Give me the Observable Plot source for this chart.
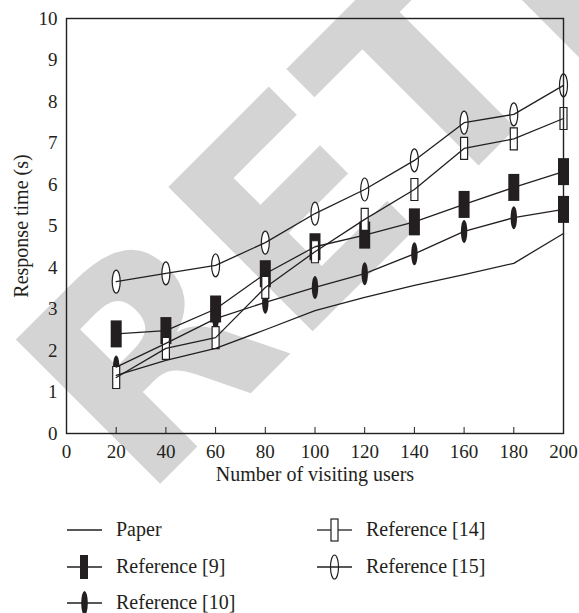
<!DOCTYPE html>
<html>
<head>
<meta charset="utf-8">
<script src="https://cdn.jsdelivr.net/npm/d3@7"></script>
<script src="https://cdn.jsdelivr.net/npm/@observablehq/plot@0.6"></script>
<style>
  html, body { margin: 0; padding: 0; background: #fff; }
  #wrap { position: relative; width: 579px; height: 613px; overflow: hidden; font-family: "Liberation Serif", "Times New Roman", serif; color: #231f20; }
  #wm { position: absolute; left: 0; top: 0; z-index: 0; }
  #chart { position: absolute; left: 0; top: 0; z-index: 1; }
  .leg { position: absolute; font-size: 20px; line-height: 20px; white-space: nowrap; z-index: 1; }
  .sw { position: absolute; z-index: 1; }
</style>
</head>
<body>
<div id="wrap">
  <svg id="wm" width="579" height="613"><text id="wmtext" font-family="DejaVu Sans" font-weight="bold" font-size="280" fill="#d4d4d4">RETRACTED</text></svg>
  <div id="chart"></div>
</div>
<script>
// ---- data ----
const users = [20, 40, 60, 80, 100, 120, 140, 160, 180, 200];
const paper  = [1.40, 1.76, 2.05, 2.50, 2.96, 3.28, 3.57, 3.83, 4.10, 4.82];
const ref9   = [2.40, 2.48, 3.00, 3.85, 4.50, 4.78, 5.10, 5.52, 5.93, 6.31];
const ref10  = [1.60, 2.17, 2.77, 3.16, 3.52, 3.85, 4.33, 4.87, 5.20, 5.40];
const ref14  = [1.35, 2.05, 2.31, 3.52, 4.38, 5.16, 5.88, 6.87, 7.10, 7.59];
const ref15  = [3.66, 3.86, 4.05, 4.60, 5.30, 5.88, 6.58, 7.49, 7.69, 8.39];
// marker shape actually printed for Reference [10] at each point (last one is a bar in the original)
const ref10Shapes = ["ellipse", "ellipse", "ellipse", "ellipse", "ellipse", "ellipse", "ellipse", "ellipse", "ellipse", "bar"];
const seriesNames = ["Paper", "Reference [9]", "Reference [10]", "Reference [14]", "Reference [15]"];
const xTicks = [0, 20, 40, 60, 80, 100, 120, 140, 160, 180, 200];
const yTicks = [0, 1, 2, 3, 4, 5, 6, 7, 8, 9, 10];

const ink = "#231f20";
const FONT = "'Liberation Serif', 'Times New Roman', serif";

// custom marker symbols
function rectSymbol(w, h) {
  return { draw(ctx) { ctx.moveTo(-w/2, -h/2); ctx.lineTo(w/2, -h/2); ctx.lineTo(w/2, h/2); ctx.lineTo(-w/2, h/2); ctx.closePath(); } };
}
function ellipseSymbol(rx, ry) {
  const k = 0.5523;
  return { draw(ctx) {
    ctx.moveTo(0, -ry);
    ctx.bezierCurveTo(k*rx, -ry, rx, -k*ry, rx, 0);
    ctx.bezierCurveTo(rx, k*ry, k*rx, ry, 0, ry);
    ctx.bezierCurveTo(-k*rx, ry, -rx, k*ry, -rx, 0);
    ctx.bezierCurveTo(-rx, -k*ry, -k*rx, -ry, 0, -ry);
    ctx.closePath();
  } };
}
const symFilledRect = rectSymbol(11, 27);
const symOpenRect = rectSymbol(7, 22);
const symOpenEllipse = ellipseSymbol(4, 11.5);
const symFilledEllipse = ellipseSymbol(3.2, 11.5);

const series = [
  {name: seriesNames[0], values: paper},
  {name: seriesNames[1], values: ref9},
  {name: seriesNames[2], values: ref10},
  {name: seriesNames[3], values: ref14},
  {name: seriesNames[4], values: ref15}
];
const rows = series.flatMap(s => s.values.map((v, i) => ({series: s.name, x: users[i], y: v, shape: s.name === seriesNames[2] ? ref10Shapes[i] : null})));
const of = name => rows.filter(d => d.series === name);

const chart = Plot.plot({
  width: 579,
  height: 490,
  marginLeft: 66,
  marginRight: 16,
  marginTop: 18,
  marginBottom: 57,
  style: {fontFamily: FONT, fontSize: "19px", background: "transparent", color: ink, overflow: "visible"},
  x: {domain: [0, 200]},
  y: {domain: [0, 10]},
  marks: [
    Plot.dot(of(seriesNames[2]).filter(d => d.shape === "ellipse"), {x: "x", y: "y", symbol: symFilledEllipse, fill: ink, stroke: "none"}),
    Plot.dot(of(seriesNames[2]).filter(d => d.shape === "bar"), {x: "x", y: "y", symbol: symFilledRect, fill: ink, stroke: "none"}),
    Plot.dot(of(seriesNames[1]), {x: "x", y: "y", symbol: symFilledRect, fill: ink, stroke: "none"}),
    Plot.dot(of(seriesNames[3]), {x: "x", y: "y", symbol: symOpenRect, fill: "white", stroke: ink, strokeWidth: 1.2}),
    Plot.dot(of(seriesNames[4]), {x: "x", y: "y", symbol: symOpenEllipse, fill: "white", stroke: ink, strokeWidth: 1.2}),
    Plot.line(rows, {x: "x", y: "y", z: "series", stroke: ink, strokeWidth: 1.3}),
    Plot.frame({stroke: ink, strokeWidth: 1.4}),
    Plot.axisX({ticks: xTicks, tickSize: 6, dy: -6, stroke: ink, fill: "none", label: null}),
    Plot.axisX({ticks: xTicks, tickSize: 0, tickPadding: 11, fontSize: 19, fill: ink,
      label: "Number of visiting users", labelAnchor: "center", labelOffset: 47, labelArrow: "none"}),
    Plot.axisY({ticks: yTicks, tickSize: 0, tickPadding: 9, fontSize: 19, fill: ink,
      label: "Response time (s)", labelAnchor: "center", labelOffset: 53, labelArrow: "none"})
  ]
});
document.getElementById("chart").appendChild(chart);
chart.querySelectorAll("text").forEach(t => t.style.fontFamily = FONT);
chart.querySelectorAll("g[aria-label='x-axis label'] text, g[aria-label='y-axis label'] text").forEach(t => t.setAttribute("font-size", "20"));

// watermark position (baseline running up to the right)
document.getElementById("wmtext").setAttribute("transform", "translate(142,502) rotate(-45)");

// ---- legend (HTML below the SVG) ----
const wrap = document.getElementById("wrap");
const legendItems = [
  {name: seriesNames[0], sym: null, col: 0, row: 0},
  {name: seriesNames[1], sym: "frect", col: 0, row: 1},
  {name: seriesNames[2], sym: "fell", col: 0, row: 2},
  {name: seriesNames[3], sym: "orect", col: 1, row: 0},
  {name: seriesNames[4], sym: "oell", col: 1, row: 1}
];
const colX = [67, 317];
const rowY = [530, 567, 603];
const ns = "http://www.w3.org/2000/svg";
function el(tag, attrs) { const e = document.createElementNS(ns, tag); for (const k in attrs) e.setAttribute(k, attrs[k]); return e; }
legendItems.forEach(it => {
  const x0 = colX[it.col], yc = rowY[it.row];
  const svg = el("svg", {width: 36, height: 30, class: "sw"});
  svg.style.left = x0 + "px"; svg.style.top = (yc - 15) + "px";
  const lineAttrs = {x1: 0, x2: 35, y1: 15, y2: 15, stroke: ink, "stroke-width": 1.3};
  if (it.sym === "orect") {
    svg.appendChild(el("line", {...lineAttrs, x2: 14}));
    svg.appendChild(el("line", {...lineAttrs, x1: 21}));
    svg.appendChild(el("rect", {x: 14, y: 4, width: 7, height: 22, fill: "white", stroke: ink, "stroke-width": 1.2}));
  } else {
    svg.appendChild(el("line", lineAttrs));
    if (it.sym === "frect") svg.appendChild(el("rect", {x: 13, y: 3, width: 8, height: 24, fill: ink}));
    if (it.sym === "fell") svg.appendChild(el("ellipse", {cx: 17.5, cy: 15, rx: 3.3, ry: 12, fill: ink}));
    if (it.sym === "oell") svg.appendChild(el("ellipse", {cx: 17.5, cy: 15, rx: 4, ry: 12, fill: "none", stroke: ink, "stroke-width": 1.2}));
  }
  wrap.appendChild(svg);
  const t = document.createElement("div");
  t.className = "leg";
  t.textContent = it.name;
  t.style.left = (x0 + 49) + "px";
  t.style.top = (yc - 11) + "px";
  wrap.appendChild(t);
});
</script>
</body>
</html>
